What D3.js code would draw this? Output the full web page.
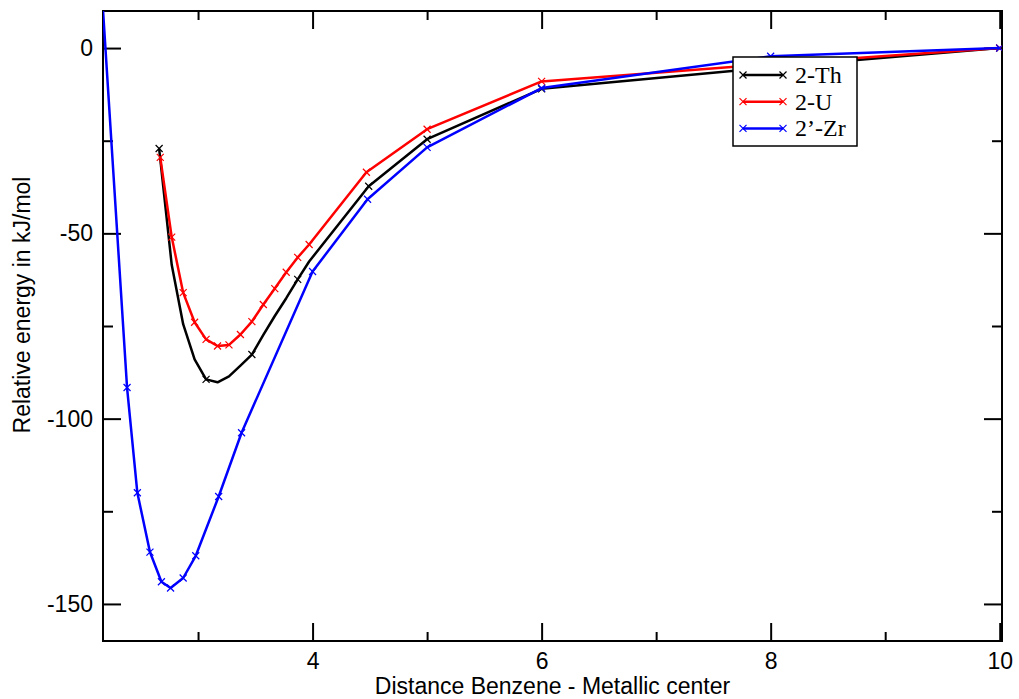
<!DOCTYPE html>
<html>
<head>
<meta charset="utf-8">
<script src="https://cdn.jsdelivr.net/npm/d3@7"></script>
<style>
  body { margin: 0; background: #ffffff; }
  svg { display: block; }
</style>
</head>
<body>
<svg id="chart" width="1019" height="699"></svg>
<script>
// ---------------- data ----------------
const thX = [2.66, 2.77, 2.87, 2.97, 3.07, 3.17, 3.27, 3.37, 3.47, 3.57, 3.67, 3.77, 3.87, 3.97, 4.49, 5, 6, 8, 10];
const thY = [-27.1, -58.5, -74.5, -84, -89.4, -90.2, -88.6, -85.7, -82.7, -77.4, -72.3, -67.5, -62.4, -57.6, -37.3, -24.6, -11, -5.2, 0];
const thSymbol = [1, 0, 0, 0, 1, 0, 0, 0, 1, 0, 0, 0, 1, 0, 1, 1, 1, 1, 1];

const uX = [2.67, 2.77, 2.87, 2.97, 3.07, 3.17, 3.27, 3.37, 3.47, 3.57, 3.67, 3.77, 3.87, 3.97, 4.47, 5, 6, 8, 10];
const uY = [-29.5, -51, -66, -74, -78.6, -80.4, -80.1, -77.3, -73.8, -69.2, -64.9, -60.5, -56.5, -53, -33.5, -21.9, -9.0, -4.3, 0];

const zrX = [2.15, 2.38, 2.47, 2.58, 2.68, 2.76, 2.87, 2.98, 3.18, 3.38, 4.0, 4.48, 5, 6, 8, 10];
const zrY = [20, -91.6, -120, -136, -144, -145.7, -143, -137, -121, -103.8, -60.3, -40.8, -26.8, -10.8, -2.2, 0];

const seriesNames = ["2-Th", "2-U", "2\u2019-Zr"];
const seriesColors = ["#000000", "#ff0000", "#0000ff"];

const xMajorTicks = [4, 6, 8, 10];
const xMinorTicks = [3, 5, 7, 9];
const yMajorTicks = [-150, -100, -50, 0];
const yMinorTicks = [-125, -75, -25];

const xTitle = "Distance Benzene - Metallic center";
const yTitle = "Relative energy in kJ/mol";

// ---------------- layout ----------------
const W = 1019, H = 699;
const m = { l: 103, r: 17, t: 11, b: 58 };
const sansFont = "'Liberation Sans', Arial, Helvetica, sans-serif";
const serifFont = "'Liberation Serif', 'Times New Roman', Times, serif";

const svg = d3.select("#chart");

const x = d3.scaleLinear().domain([2.17, 10.02]).range([m.l, W - m.r]);
const y = d3.scaleLinear().domain([-160, 10]).range([H - m.b, m.t]);

const x0 = x.range()[0], x1 = x.range()[1];
const y0 = y.range()[1], y1 = y.range()[0];

// ---------------- axes (ticks point inward on all four sides) ----------------
function styleAxis(g) {
  g.select(".domain").remove();
  g.selectAll(".tick line").attr("stroke", "#000").attr("stroke-width", 2);
  g.selectAll(".tick text")
    .attr("font-family", sansFont)
    .attr("font-size", 23)
    .attr("fill", "#000");
}

// bottom
svg.append("g").attr("transform", `translate(0,${y1})`)
  .call(d3.axisBottom(x).tickValues(xMajorTicks).tickSize(-18).tickSizeOuter(0).tickPadding(12).tickFormat(d3.format("d")))
  .call(styleAxis);
svg.append("g").attr("transform", `translate(0,${y1})`)
  .call(d3.axisBottom(x).tickValues(xMinorTicks).tickSize(-9).tickSizeOuter(0).tickFormat(""))
  .call(styleAxis);
// top
svg.append("g").attr("transform", `translate(0,${y0})`)
  .call(d3.axisTop(x).tickValues(xMajorTicks).tickSize(-18).tickSizeOuter(0).tickFormat(""))
  .call(styleAxis);
svg.append("g").attr("transform", `translate(0,${y0})`)
  .call(d3.axisTop(x).tickValues(xMinorTicks).tickSize(-9).tickSizeOuter(0).tickFormat(""))
  .call(styleAxis);
// left
svg.append("g").attr("transform", `translate(${x0},0)`)
  .call(d3.axisLeft(y).tickValues(yMajorTicks).tickSize(-18).tickSizeOuter(0).tickPadding(10).tickFormat(d3.format("d")))
  .call(styleAxis);
svg.append("g").attr("transform", `translate(${x0},0)`)
  .call(d3.axisLeft(y).tickValues(yMinorTicks).tickSize(-10).tickSizeOuter(0).tickFormat(""))
  .call(styleAxis);
// right
svg.append("g").attr("transform", `translate(${x1},0)`)
  .call(d3.axisRight(y).tickValues(yMajorTicks).tickSize(-18).tickSizeOuter(0).tickFormat(""))
  .call(styleAxis);
svg.append("g").attr("transform", `translate(${x1},0)`)
  .call(d3.axisRight(y).tickValues(yMinorTicks).tickSize(-10).tickSizeOuter(0).tickFormat(""))
  .call(styleAxis);

// minus sign as plain hyphen like the reference
svg.selectAll(".tick text").text(function () { return d3.select(this).text().replace("\u2212", "-"); });

// frame
svg.append("rect")
  .attr("x", x0).attr("y", y0)
  .attr("width", x1 - x0).attr("height", y1 - y0)
  .attr("fill", "none").attr("stroke", "#000").attr("stroke-width", 2);

// ---------------- series ----------------
svg.append("defs").append("clipPath").attr("id", "plotClip")
  .append("rect").attr("x", x0).attr("y", y0).attr("width", x1 - x0).attr("height", y1 - y0);

const plot = svg.append("g").attr("clip-path", "url(#plotClip)");

const series = [
  { name: seriesNames[0], color: seriesColors[0], xs: thX, ys: thY, sym: thSymbol },
  { name: seriesNames[1], color: seriesColors[1], xs: uX, ys: uY, sym: null },
  { name: seriesNames[2], color: seriesColors[2], xs: zrX, ys: zrY, sym: null }
];

const line = d3.line()
  .x(d => x(d[0]))
  .y(d => y(d[1]))
  .curve(d3.curveLinear);

const crossPath = "M-3.5,-3.5L3.5,3.5M-3.5,3.5L3.5,-3.5";

series.forEach(s => {
  const pts = s.xs.map((v, i) => [v, s.ys[i], s.sym ? s.sym[i] : 1]);
  plot.append("path")
    .datum(pts)
    .attr("d", line)
    .attr("fill", "none")
    .attr("stroke", s.color)
    .attr("stroke-width", 2.5)
    .attr("stroke-linejoin", "round");
  plot.append("g").selectAll("path")
    .data(pts.filter(p => p[2]))
    .join("path")
    .attr("transform", d => `translate(${x(d[0])},${y(d[1])})`)
    .attr("d", crossPath)
    .attr("fill", "none")
    .attr("stroke", s.color)
    .attr("stroke-width", 1.2);
});

// ---------------- titles ----------------
svg.append("text")
  .attr("x", (x0 + x1) / 2).attr("y", 694)
  .attr("text-anchor", "middle")
  .attr("font-family", sansFont).attr("font-size", 23).attr("fill", "#000")
  .text(xTitle);

svg.append("text")
  .attr("transform", `translate(30,305) rotate(-90)`)
  .attr("text-anchor", "middle")
  .attr("font-family", sansFont).attr("font-size", 23).attr("fill", "#000")
  .text(yTitle);

// ---------------- legend ----------------
const lg = svg.append("g").attr("transform", "translate(733,57)");
lg.append("rect")
  .attr("x", 0).attr("y", 0).attr("width", 124).attr("height", 89)
  .attr("fill", "#fff").attr("stroke", "#000").attr("stroke-width", 1.5);

series.forEach((s, i) => {
  const cy = 18 + i * 26.7;
  const row = lg.append("g").attr("transform", `translate(0,${cy})`);
  row.append("line")
    .attr("x1", 10).attr("x2", 50).attr("y1", 0).attr("y2", 0)
    .attr("stroke", s.color).attr("stroke-width", 2.5);
  [10, 50].forEach(px => {
    row.append("path")
      .attr("transform", `translate(${px},0)`)
      .attr("d", crossPath)
      .attr("fill", "none").attr("stroke", s.color).attr("stroke-width", 1.2);
  });
  row.append("text")
    .attr("x", 62).attr("y", 8)
    .attr("font-family", serifFont).attr("font-size", 24).attr("fill", "#000")
    .text(s.name);
});
</script>
</body>
</html>
